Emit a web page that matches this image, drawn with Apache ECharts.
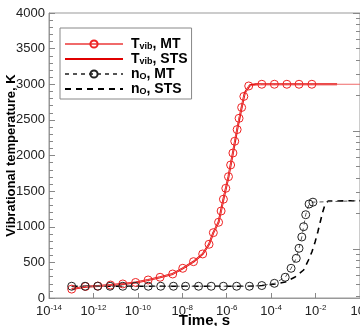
<!DOCTYPE html>
<html>
<head>
<meta charset="utf-8">
<script src="https://cdn.jsdelivr.net/npm/echarts@6/dist/echarts.min.js"></script>
<style>
  html, body { margin: 0; padding: 0; background: #fff; }
  #chart { width: 360px; height: 326px; }
</style>
</head>
<body>
<div id="chart"></div>
<script>
// time axis ticks (exponents of 10)
const xTickExp = [-14, -12, -10, -8, -6, -4, -2, 0];

// T_vib, MT (red circles)
const tvibMtTime = [1.05e-13, 4.4e-13, 1.6e-12, 5.9e-12, 2.1e-11, 7.9e-11, 2.9e-10, 1.0e-9, 3.7e-9,
  1.05e-8, 3.2e-8, 8.3e-8, 1.6e-7, 2.5e-7, 4.3e-7, 5.6e-7, 7.1e-7, 9.1e-7, 1.2e-6, 1.5e-6, 1.9e-6,
  2.3e-6, 2.95e-6, 3.6e-6, 4.7e-6, 5.9e-6, 9.8e-6, 3.8e-5, 1.4e-4, 5.1e-4, 1.8e-3, 6.8e-3, 1];
const tvibMtVal = [125, 161, 168, 182, 197, 218, 253, 291, 337,
  417, 510, 618, 754, 917, 1063, 1221, 1386, 1540, 1703, 1867, 2035,
  2200, 2364, 2522, 2674, 2829, 2976, 3000, 3000, 3000, 3000, 3000, 3000];

// T_vib, STS (red solid)
const tvibStsTime = [1.05e-13, 4.4e-13, 1.6e-12, 5.9e-12, 2.1e-11, 7.9e-11, 2.9e-10, 1.0e-9, 3.7e-9,
  1.05e-8, 3.2e-8, 8.3e-8, 1.6e-7, 2.5e-7, 4.3e-7, 7.1e-7, 1.2e-6, 1.9e-6, 2.95e-6, 4.7e-6,
  6.5e-6, 1.1e-5, 2e-5, 9.3e-2];
const tvibStsVal = [125, 158, 168, 182, 197, 218, 253, 291, 337,
  417, 510, 618, 754, 917, 1063, 1386, 1703, 2035, 2364, 2674,
  2880, 2985, 3000, 3000];

// n_O, MT (black circles, dashed)
const noMtTime = [1.05e-13, 4.2e-13, 1.55e-12, 5.6e-12, 2.1e-11, 7.4e-11, 2.95e-10, 1.07e-9, 4.0e-9,
  1.4e-8, 5.4e-8, 2.0e-7, 7.1e-7, 2.8e-6, 1.05e-5, 3.8e-5, 1.4e-4, 4.3e-4, 7.9e-4, 1.35e-3,
  1.8e-3, 2.4e-3, 2.9e-3, 3.6e-3, 5.1e-3, 7.6e-3, 1];
const noMtVal = [165, 165, 165, 165, 165, 165, 165, 165, 165,
  165, 165, 165, 165, 165, 165, 175, 206, 291, 417, 557,
  698, 856, 1001, 1169, 1319, 1345, 1366];

// n_O, STS (black dashed)
const noStsTime = [1.05e-13, 1e-5, 3.9e-5, 1.5e-4, 4.3e-4, 1.2e-3, 2.9e-3, 4.8e-3, 6.8e-3, 9.5e-3,
  1.26e-2, 1.62e-2, 2.1e-2, 2.7e-2, 3.7e-2, 1];
const noStsVal = [165, 165, 175, 196, 225, 295, 393, 533, 646, 786,
  926, 1067, 1207, 1319, 1361, 1366];

// right axis: log decades and minor multipliers (no labels shown)
const rightDecades = [-1, 0, 1, 2];
const rightMinor = [2, 3, 4, 5, 6, 7, 8, 9];

const legendText = {
  "Tvib MT": "{m|T}{s|vib}{m|, MT}",
  "Tvib STS": "{m|T}{s|vib}{m|, STS}",
  "nO MT": "{m|n}{s|O}{m|, MT}",
  "nO STS": "{m|n}{s|O}{m|, STS}",
};

const zip = (xs, ys) => xs.map((x, i) => [x, ys[i]]);
const lastNoSymbol = (pts) =>
  pts.map((p, i) => (i === pts.length - 1 ? { value: p, symbol: "none" } : p));

const rightMajorVals = rightDecades.filter((d) => d >= 0);
const rightMinorVals = [];
for (const d of rightDecades) {
  for (const m of rightMinor) {
    const v = d + Math.log10(m);
    if (v >= -0.415 && v <= 2) rightMinorVals.push(v);
  }
}

const font = "'Liberation Sans', Arial, sans-serif";
const chart = echarts.init(document.getElementById("chart"));

const rightAxis = (vals, len) => ({
  type: "value",
  position: "right",
  min: -0.415,
  max: 2,
  axisLine: { show: false },
  splitLine: { show: false },
  axisLabel: { show: false },
  axisTick: { show: true, inside: true, length: len, customValues: vals, lineStyle: { color: "#888" } },
});

chart.setOption({
  animation: false,
  textStyle: { fontFamily: font },
  grid: { left: 49, right: 0, top: 13, bottom: 28, show: true, borderColor: "#999", borderWidth: 1, outerBoundsMode: "none" },
  legend: {
    orient: "vertical",
    left: 60,
    top: 28,
    padding: [9, 4, 3, 4],
    itemWidth: 58,
    itemHeight: 9,
    itemGap: 1,
    borderColor: "#888",
    borderWidth: 1,
    borderRadius: 0,
    backgroundColor: "#fff",
    data: ["Tvib MT", "Tvib STS", "nO MT", "nO STS"],
    formatter: (name) => legendText[name],
    textStyle: {
      fontFamily: font,
      fontWeight: "bold",
      fontSize: 14,
      color: "#000",
      padding: [0, 0, 0, 3],
      rich: {
        m: { fontFamily: font, fontWeight: "bold", fontSize: 14, lineHeight: 14, color: "#000" },
        s: { fontFamily: font, fontWeight: "bold", fontSize: 9, lineHeight: 6, verticalAlign: "bottom", color: "#000" },
      },
    },
  },
  xAxis: {
    type: "log",
    logBase: 10,
    min: Math.pow(10, xTickExp[0]),
    max: Math.pow(10, xTickExp[xTickExp.length - 1]),
    interval: 2,
    name: "Time, s",
    nameLocation: "middle",
    nameGap: 15,
    nameMoveOverlap: false,
    nameTextStyle: { fontFamily: font, fontWeight: "bold", fontSize: 15, color: "#000" },
    axisLine: { show: true, lineStyle: { color: "#999" } },
    axisTick: { show: true, inside: true, length: 5, lineStyle: { color: "#888" } },
    splitLine: { show: false },
    axisLabel: {
      margin: 6,
      fontSize: 13,
      color: "#222",
      formatter: (v) => "{b|10}{e|" + Math.round(Math.log10(v)) + "}",
      rich: {
        b: { fontFamily: font, fontSize: 13, lineHeight: 15, color: "#222" },
        e: { fontFamily: font, fontSize: 8, lineHeight: 8, verticalAlign: "top", color: "#222" },
      },
    },
  },
  yAxis: [
    {
      type: "value",
      min: 0,
      max: 4000,
      interval: 500,
      name: "Vibrational temperature, K",
      nameLocation: "middle",
      nameGap: 31,
      nameMoveOverlap: false,
      nameTextStyle: { fontFamily: font, fontWeight: "bold", fontSize: 13, color: "#000" },
      axisLine: { show: true, lineStyle: { color: "#999" } },
      axisTick: { show: true, inside: true, length: 6, lineStyle: { color: "#888" } },
      minorTick: { show: true, splitNumber: 5, length: 4, lineStyle: { color: "#888" } },
      splitLine: { show: false },
      axisLabel: { margin: 4, fontFamily: font, fontSize: 13, color: "#222", formatter: (v) => String(v) },
    },
    rightAxis(rightMajorVals, 7),
    rightAxis(rightMinorVals, 4),
  ],
  series: [
    {
      name: "Tvib MT",
      type: "line",
      data: lastNoSymbol(zip(tvibMtTime, tvibMtVal)),
      symbol: "circle",
      symbolSize: 8,
      itemStyle: { color: "none", borderColor: "#e22", borderWidth: 1 },
      lineStyle: { color: "#f06a6a", width: 1 },
      z: 3,
    },
    {
      name: "Tvib STS",
      type: "line",
      data: zip(tvibStsTime, tvibStsVal),
      showSymbol: false,
      symbol: "none",
      itemStyle: { color: "none", borderWidth: 0 },
      lineStyle: { color: "#e00000", width: 2 },
      z: 2,
    },
    {
      name: "nO MT",
      type: "line",
      data: lastNoSymbol(zip(noMtTime, noMtVal)),
      symbol: "circle",
      symbolSize: 8,
      itemStyle: { color: "none", borderColor: "#222", borderWidth: 1 },
      lineStyle: { color: "#555", width: 1, type: [4, 4] },
      z: 3,
    },
    {
      name: "nO STS",
      type: "line",
      data: zip(noStsTime, noStsVal),
      showSymbol: false,
      symbol: "none",
      itemStyle: { color: "none", borderWidth: 0 },
      lineStyle: { color: "#000", width: 1.6, type: [6, 5] },
      z: 2,
    },
  ],
});
</script>
</body>
</html>
